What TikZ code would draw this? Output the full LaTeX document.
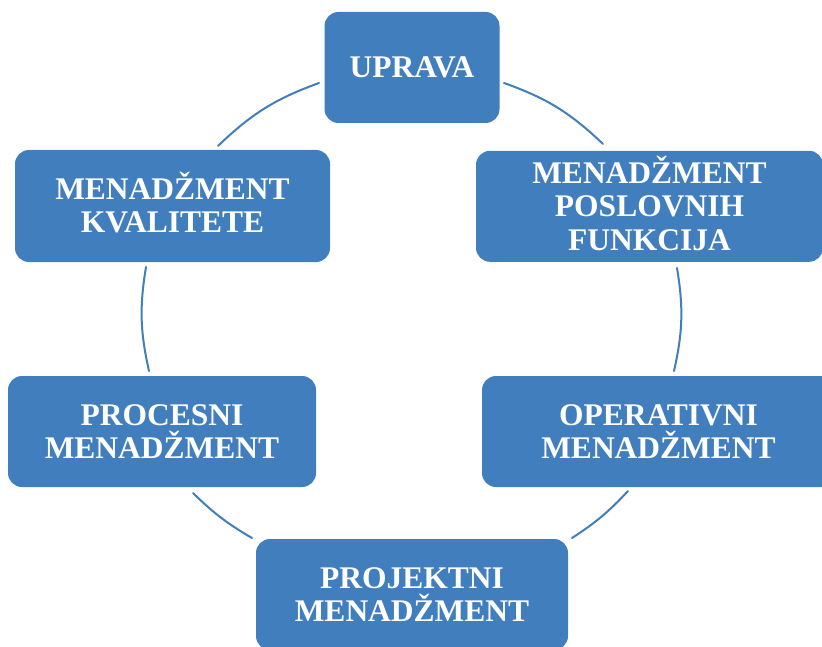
\documentclass[tikz,border=0pt]{standalone}
\usepackage{fontspec}
\setmainfont{Liberation Serif}
\definecolor{boxblue}{RGB}{65,126,190}
\begin{document}
\begin{tikzpicture}[x=1pt,y=-1pt,
  box/.style={fill=boxblue, draw=none, rounded corners=14pt, text=white,
    font=\fontsize{31.5}{33.5}\selectfont\bfseries, align=center,
    inner sep=0pt, minimum height=111pt},
  ring/.style={draw=boxblue, line width=2pt, line cap=round}]
\useasboundingbox (0,0) rectangle (822,647);
% boxes
\node[box, minimum width=175pt] (upr) at (412,67.5) {UPRAVA};
\node[box, minimum width=347pt] (pos) at (649.5,206.3) {MENAD\smash{Ž}MENT\\POSLOVNIH\\FUNKCIJA};
\node[box, minimum width=353pt] (ope) at (658.5,431.5) {OPERATIVNI\\MENAD\smash{Ž}MENT};
\node[box, minimum width=312pt] (pro) at (412,594.5) {PROJEKTNI\\MENAD\smash{Ž}MENT};
\node[box, minimum width=308pt] (prc) at (162,431.5) {PROCESNI\\MENAD\smash{Ž}MENT};
\node[box, minimum width=315pt, minimum height=112pt] (kva) at (172.5,206) {MENAD\smash{Ž}MENT\\KVALITETE};
% arc end points
\coordinate (a1s) at (504,83);   \coordinate (a1e) at (603,144);
\coordinate (a2s) at (677,268);  \coordinate (a2e) at (674,371);
\coordinate (a3s) at (628,491);  \coordinate (a3e) at (572,538);
\coordinate (a4s) at (252,538);  \coordinate (a4e) at (193,493);
\coordinate (a5s) at (149,371);  \coordinate (a5e) at (146,267);
\coordinate (a6s) at (218,146);  \coordinate (a6e) at (319,83);
% ring arcs
\draw[ring] (a1s) to[bend left=12] (a1e);
\draw[ring] (a2s) to[bend left=11] (a2e);
\draw[ring] (a3s) to[bend left=7] (a3e);
\draw[ring] (a4s) to[bend left=7] (a4e);
\draw[ring] (a5s) to[bend left=11] (a5e);
\draw[ring] (a6s) to[bend left=12] (a6e);
\end{tikzpicture}
\end{document}
